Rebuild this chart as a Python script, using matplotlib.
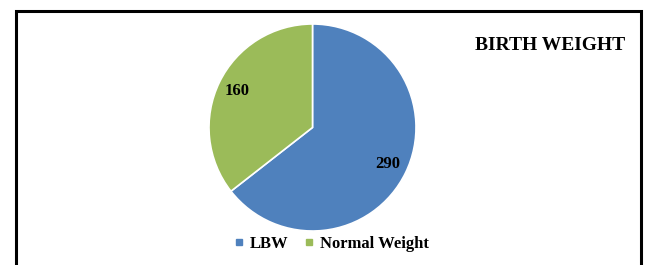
import matplotlib.pyplot as plt
from matplotlib.lines import Line2D
from matplotlib.patches import Rectangle

categories = ['LBW', 'Normal Weight']
counts = [290, 160]
colors = ['#4F81BD', '#9BBB59']

W, H = 650, 265
plt.rcParams['font.family'] = ['Liberation Serif', 'DejaVu Serif']

fig = plt.figure(figsize=(W / 100, H / 100), dpi=100)

# chart border (bottom edge cut off in the reference)
fig.patches.append(Rectangle((16 / W, -0.1), (641 - 16) / W, 1.1 - 11 / H,
                             transform=fig.transFigure, fill=False,
                             edgecolor='black', linewidth=2.2))

cx, cy, r = 312.5, 127.5, 103.5
ax = fig.add_axes([(cx - r) / W, (H - cy - r) / H, 2 * r / W, 2 * r / H])
total = sum(counts)
ax.pie(counts, colors=colors, startangle=90, counterclock=False,
       autopct=lambda p: '%d' % round(p * total / 100), pctdistance=0.81,
       wedgeprops=dict(edgecolor='white', linewidth=1.2),
       textprops=dict(fontsize=12, fontweight='bold', color='black'))
ax.set_xlim(-1, 1)
ax.set_ylim(-1, 1)
ax.axis('off')

fig.text(625 / W, 1 - 45 / H, 'BIRTH WEIGHT', ha='right', va='center',
         fontsize=14, fontweight='bold')

handles = [Line2D([], [], marker='s', linestyle='', markersize=5,
                  color=c) for c in colors]
fig.legend(handles, categories, loc='center', bbox_to_anchor=(332 / W, 21 / H),
           ncol=2, frameon=False, handlelength=0.5, handletextpad=0.4,
           columnspacing=1.0, prop=dict(size=12, weight='bold'))

fig.savefig('out.png', dpi=100)
